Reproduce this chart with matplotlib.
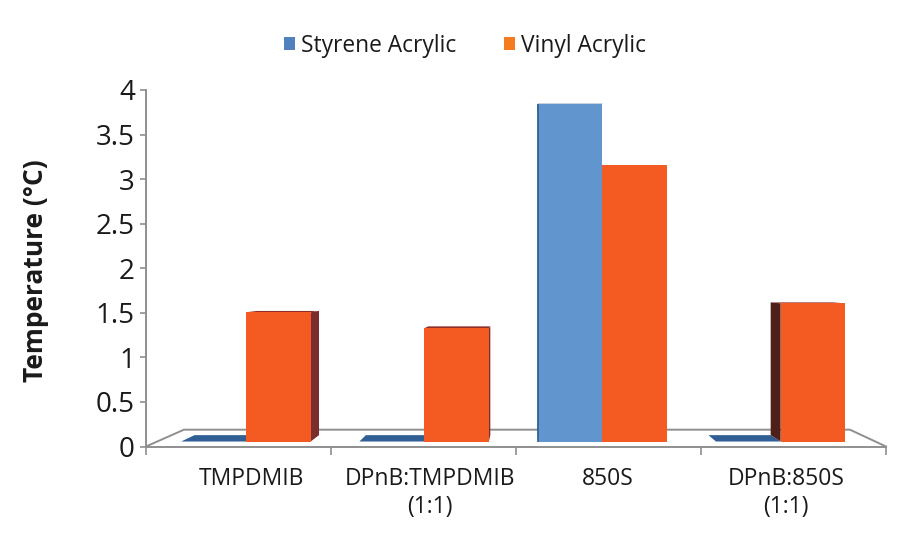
import numpy as np
import matplotlib
matplotlib.use('Agg')
from matplotlib import pyplot as plt
from matplotlib.patches import Patch, Polygon

plt.rcParams['font.family'] = ['Open Sans', 'DejaVu Sans']

categories = ['TMPDMIB', 'DPnB:TMPDMIB\n(1:1)', '850S', 'DPnB:850S\n(1:1)']
styrene = [0, 0, 3.79, 0]
vinyl = [1.45, 1.27, 3.1, 1.55]
yticks = [0, 0.5, 1, 1.5, 2, 2.5, 3, 3.5, 4]
ylabels = ['0', '0.5', '1', '1.5', '2', '2.5', '3', '3.5', '4']

# fake 3d: bars sit on a floor, depth goes towards a vanishing point
VP = (2.05, 1.888)
BASE = 0.056
DEPTH = 0.039
WIDTH = 0.35
GRAY = '#8f8f8f'


def back(x, y, f=DEPTH):
    return (x + (VP[0] - x) * f, y + (VP[1] - y) * f)


def faces(ax, left, value, top_col, side_col):
    right = left + WIDTH
    top = BASE + value
    ax.add_patch(Polygon([(left, top), (right, top), back(right, top), back(left, top)],
                         fc=top_col, ec='none', zorder=2))
    if value > 0:
        x = right if right < VP[0] else left
        ax.add_patch(Polygon([(x, BASE), (x, top), back(x, top), back(x, BASE)],
                             fc=side_col, ec='none', zorder=2))


fig = plt.figure(figsize=(9, 5.5), dpi=100)
ax = fig.add_axes([146 / 900, 1 - 446.5 / 550, 740 / 900, 356.5 / 550])
ax.set_xlim(0, 4)
ax.set_ylim(0, 4)

# floor
ax.plot([0, *back(0, 0, 0.1)[:1], *back(4, 0, 0.1)[:1], 4],
        [0, back(0, 0, 0.1)[1], back(4, 0, 0.1)[1], 0],
        color=GRAY, lw=1.4, zorder=1, clip_on=False)

mid = 0.54 + 0.9635 * np.arange(len(categories))
for i in range(len(categories)):
    faces(ax, mid[i] - WIDTH, styrene[i], '#2f5f94', '#2f5f94')
for i in range(len(categories)):
    faces(ax, mid[i], vinyl[i], '#8e2f2a', '#7b2d2d' if mid[i] < VP[0] else '#4f1f1a')

ax.bar(mid - WIDTH, styrene, WIDTH, bottom=BASE, align='edge', color='#6195cd', zorder=3)
ax.bar(mid, vinyl, WIDTH, bottom=BASE, align='edge', color='#f45b23', zorder=3)
ax.vlines(mid[2] - WIDTH, BASE, BASE + styrene[2], color='#2f5f94', lw=1.2, zorder=3)

for s in ['top', 'right']:
    ax.spines[s].set_visible(False)
for s in ['left', 'bottom']:
    ax.spines[s].set_color(GRAY)
    ax.spines[s].set_linewidth(1.4)
ax.patch.set_alpha(0)

ax.set_yticks(yticks)
ax.set_yticklabels(ylabels, fontsize=20, color='#1a1a1a')
ax.tick_params(axis='y', length=4, width=1.2, color=GRAY, pad=4)
ax.set_xticks([0, 1, 2, 3, 4])
ax.set_xticklabels([])
ax.tick_params(axis='x', length=6, width=1.2, color=GRAY)
ax.set_xticks(mid + 0.03, minor=True)
ax.set_xticklabels(categories, minor=True, fontsize=16.5, color='#1a1a1a', linespacing=1.2)
ax.tick_params(axis='x', which='minor', length=0, pad=15)

fig.text(36 / 900, 1 - 271 / 550, 'Temperature (°C)', rotation=90, ha='center', va='center',
         fontsize=19, fontweight='bold', color='#1a1a1a')

handles = [Patch(fc='#4f81bd', ec='none'), Patch(fc='#f47b20', ec='none')]
fig.legend(handles, ['Styrene Acrylic', 'Vinyl Acrylic'], ncol=2, frameon=False, fontsize=16.4,
           loc='center', bbox_to_anchor=(465 / 900, 1 - 46 / 550), handlelength=0.5,
           handleheight=0.5, handletextpad=0.25, columnspacing=2.1, labelcolor='#1a1a1a')

fig.savefig('out.png', dpi=100)
